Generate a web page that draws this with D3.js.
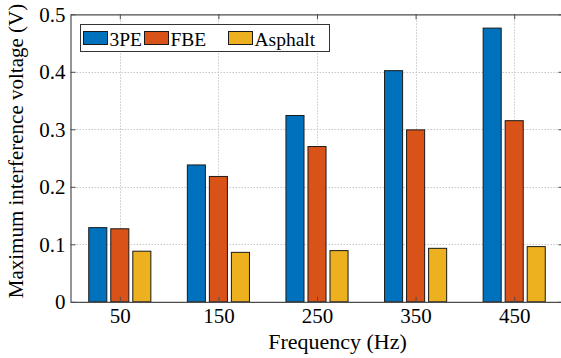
<!DOCTYPE html>
<html>
<head>
<meta charset="utf-8">
<script src="https://cdn.jsdelivr.net/npm/d3@7"></script>
<style>
  html, body { margin: 0; padding: 0; background: #fff; }
  svg { display: block; }
</style>
</head>
<body>
<svg id="chart" width="561" height="358"></svg>
<script>
// Frequencies (Hz) on the x axis
const frequencies = [50, 150, 250, 350, 450];
// Coating types
const coatings = ["3PE", "FBE", "Asphalt"];
// Maximum interference voltage (V) per coating
const voltage3PE = [0.129, 0.238, 0.324, 0.402, 0.476];
const voltageFBE = [0.127, 0.218, 0.270, 0.299, 0.315];
const voltageAsphalt = [0.088, 0.086, 0.089, 0.093, 0.096];
const yTicks = [0, 0.1, 0.2, 0.3, 0.4, 0.5];

const seriesValues = [voltage3PE, voltageFBE, voltageAsphalt];
const colors = ["#0072BD", "#D95319", "#EDB120"];
const serif = "Liberation Serif";

const svg = d3.select("#chart");
const plotLeft = 70.5, plotRight = 563.5, plotTop = 14.3, plotBottom = 301.8;

const x = d3.scaleLinear().domain([0, 500]).range([plotLeft, plotRight]);
const y = d3.scaleLinear().domain([0, 0.5]).range([plotBottom, plotTop]);
const step = x(100) - x(0);
const xs = d3.scaleBand().domain(coatings).range([-0.315 * step, 0.315 * step]).paddingInner(0.18);

// Grid lines
const grid = svg.append("g").attr("stroke", "#c8c8c8").attr("stroke-width", 1).attr("stroke-dasharray", "1.5,1.5");
grid.selectAll("line.h").data(yTicks.filter(t => t > 0 && t < 0.5)).join("line")
  .attr("x1", plotLeft).attr("x2", plotRight)
  .attr("y1", d => Math.round(y(d)) + 0.5).attr("y2", d => Math.round(y(d)) + 0.5);
grid.selectAll("line.v").data(frequencies).join("line")
  .attr("y1", plotTop).attr("y2", plotBottom)
  .attr("x1", d => Math.round(x(d)) + 0.5).attr("x2", d => Math.round(x(d)) + 0.5);

// Bars
const rows = [];
frequencies.forEach((f, i) => coatings.forEach((c, j) => rows.push({ f, c, j, v: seriesValues[j][i] })));
svg.append("g").selectAll("rect").data(rows).join("rect")
  .attr("x", d => x(d.f) + xs(d.c))
  .attr("width", xs.bandwidth())
  .attr("y", d => y(d.v))
  .attr("height", d => y(0) - y(d.v))
  .attr("fill", d => colors[d.j])
  .attr("stroke", "#1a1a1a")
  .attr("stroke-width", 1);

// Axes box with inward ticks on all sides
const axisColor = "#4d4d4d";
const tickLen = 5;
const xAxisB = d3.axisBottom(x).tickValues(frequencies).tickSizeInner(-tickLen).tickSizeOuter(0).tickPadding(6);
const xAxisT = d3.axisTop(x).tickValues(frequencies).tickSizeInner(-tickLen).tickSizeOuter(0).tickFormat("");
const yAxisL = d3.axisLeft(y).tickValues(yTicks).tickSizeInner(-tickLen).tickSizeOuter(0).tickPadding(5).tickFormat(d => d === 0 ? "0" : d3.format(".1f")(d));
const yAxisR = d3.axisRight(y).tickValues(yTicks).tickSizeInner(-tickLen).tickSizeOuter(0).tickFormat("");

function styleAxis(g) {
  g.attr("font-family", null).attr("font-size", null);
  g.select(".domain").attr("stroke", axisColor).attr("stroke-width", 1.2);
  g.selectAll(".tick line").attr("stroke", axisColor);
  g.selectAll(".tick text").attr("fill", "#000")
    .style("font-family", serif).style("font-size", "21px");
}
svg.append("g").attr("transform", `translate(0,${plotBottom})`).call(xAxisB).call(styleAxis);
svg.append("g").attr("transform", `translate(0,${plotTop})`).call(xAxisT).call(styleAxis);
svg.append("g").attr("transform", `translate(${plotLeft},0)`).call(yAxisL).call(styleAxis);
svg.append("g").attr("transform", `translate(${plotRight},0)`).call(yAxisR).call(styleAxis);

// Axis titles
svg.append("text")
  .attr("x", 337.5).attr("y", 349)
  .attr("text-anchor", "middle")
  .style("font-family", serif)
  .style("font-size", "22px")
  .text("Frequency (Hz)");
svg.append("text")
  .attr("transform", "translate(23,151) rotate(-90)")
  .attr("text-anchor", "middle")
  .style("font-family", serif)
  .style("font-size", "21px")
  .text("Maximum interference voltage (V)");

// Legend
const lg = svg.append("g");
lg.append("rect")
  .attr("x", 80.5).attr("y", 24.5).attr("width", 249).attr("height", 27)
  .attr("fill", "#fff").attr("stroke", "#333").attr("stroke-width", 1);
const legendX = [83.5, 144.5, 228.5];
coatings.forEach((c, j) => {
  lg.append("rect")
    .attr("x", legendX[j]).attr("y", 31.5).attr("width", 24).attr("height", 13)
    .attr("fill", colors[j]).attr("stroke", "#1a1a1a").attr("stroke-width", 1);
  lg.append("text")
    .attr("x", legendX[j] + 26).attr("y", 45.5)
    .style("font-family", serif)
    .style("font-size", "19.5px")
    .text(c);
});
</script>
</body>
</html>
